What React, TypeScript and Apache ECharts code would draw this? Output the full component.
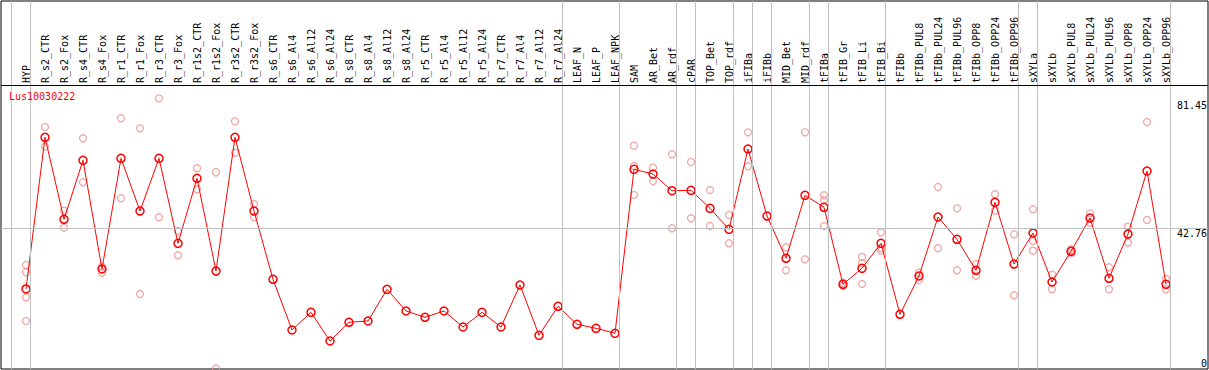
import React, { useEffect, useRef } from 'react';
import * as echarts from 'echarts';

const geneName = 'Lus10030222';

const categories = [
  'HYP', 'R_s2_CTR', 'R_s2_Fox', 'R_s4_CTR', 'R_s4_Fox', 'R_r1_CTR', 'R_r1_Fox', 'R_r3_CTR', 'R_r3_Fox',
  'R_r1s2_CTR', 'R_r1s2_Fox', 'R_r3s2_CTR', 'R_r3s2_Fox', 'R_s6_CTR', 'R_s6_Al4', 'R_s6_Al12', 'R_s6_Al24',
  'R_s8_CTR', 'R_s8_Al4', 'R_s8_Al12', 'R_s8_Al24', 'R_r5_CTR', 'R_r5_Al4', 'R_r5_Al12', 'R_r5_Al24',
  'R_r7_CTR', 'R_r7_Al4', 'R_r7_Al12', 'R_r7_Al24', 'LEAF_N', 'LEAF_P', 'LEAF_NPK', 'SAM', 'AR_Bet', 'AR_rdf',
  'cPAR', 'TOP_Bet', 'TOP_rdf', 'iFIBa', 'iFIBb', 'MID_Bet', 'MID_rdf', 'tFIBa', 'tFIB_Gr', 'tFIB_Li', 'tFIB_Bi',
  'tFIBb', 'tFIBb_PUL8', 'tFIBb_PUL24', 'tFIBb_PUL96', 'tFIBb_OPP8', 'tFIBb_OPP24', 'tFIBb_OPP96', 'sXYLa',
  'sXYLb', 'sXYLb_PUL8', 'sXYLb_PUL24', 'sXYLb_PUL96', 'sXYLb_OPP8', 'sXYLb_OPP24', 'sXYLb_OPP96',
];

const means = [
  24.2, 70.36, 45.41, 63.36, 30.28, 63.97, 47.93, 63.97, 38.1, 57.89, 29.67, 70.36, 47.93, 27.15, 11.72, 17.1,
  8.37, 14.06, 14.46, 24.1, 17.5, 15.58, 17.5, 12.63, 17.1, 12.63, 25.41, 10.1, 18.93, 13.45, 12.23, 10.71,
  60.62, 59.19, 54.11, 54.23, 48.75, 42.36, 66.8, 46.41, 33.54, 52.71, 49.06, 25.63, 30.49, 38.1, 16.5, 28.15,
  46.11, 39.32, 29.89, 50.58, 31.8, 41.24, 26.33, 35.67, 45.8, 27.45, 40.93, 60.11, 25.63,
];

const replicates: number[][] = [
  [31.5, 29.28, 21.67, 14.46], [73.5, 67.5], [48.03, 42.85], [70.06, 56.67], [30.98, 29.16],
  [76.15, 51.8], [73.1, 22.67], [82.23, 46.02], [41.85, 34.45], [60.93, 54.54], [59.71, 0],
  [75.23, 65.68], [50.06, 46.02], [], [], [], [], [], [], [], [], [], [], [], [], [], [], [], [], [], [], [],
  [67.81, 61.63, 52.8], [61.11, 57.06], [65.19, 42.67], [62.85, 45.71], [54.32, 43.37], [46.72, 38.1],
  [71.88, 61.54], [], [36.89, 29.89], [71.88, 33.23], [52.71, 51.28, 43.37], [26.11, 25.11],
  [33.93, 32.11, 25.72], [41.45, 36.58, 35.85], [], [29.16, 26.93], [55.24, 36.58], [48.75, 29.89],
  [31.71, 28.24], [53.02, 48.03], [40.84, 22.28], [48.45, 38.8, 35.85], [28.55, 24.1], [36.28, 35.06],
  [47.23, 44.37], [30.8, 24.1], [43.16, 38.29], [75.02, 45.19], [27.24, 24.1],
];

// group boundaries: a separator follows each of these categories (plus one before the first)
const groupEnds = [
  'HYP', 'R_r7_Al24', 'LEAF_NPK', 'AR_rdf', 'cPAR', 'TOP_rdf', 'iFIBa', 'iFIBb', 'MID_rdf', 'tFIBa',
  'tFIB_Bi', 'tFIBb_OPP96', 'sXYLa', 'sXYLb_OPP96',
];

const yTickLabels = [42.76, 81.45];
const yZeroLabel = [0];
const gridLineValues = [42.76];

export default function App() {
  const ref = useRef<HTMLDivElement>(null);

  useEffect(() => {
    if (!ref.current) return;
    const chart = echarts.init(ref.current, null, { renderer: 'svg' });

    const SEP_OFFSET = 0.23;
    const sepPositions = [-1, ...groupEnds.map((n) => categories.indexOf(n))].map((i) => i + SEP_OFFSET);
    const catIdx = categories.map((_, i) => i);

    const repData: number[][] = [];
    replicates.forEach((arr, i) => arr.forEach((v) => repData.push([i, v])));
    const meanData = means.map((v, i) => [i, v]);

    const font = 'DejaVu Sans Mono';
    const yMin = -0.152;
    const yMax = 111.85;
    const gridTop = 1;
    const gridBottom = 1;
    const headerHeight = 84;
    const pxPerUnit = (370 - gridTop - gridBottom) / (yMax - yMin);
    const headerLineValue = yMax - headerHeight / pxPerUnit;

    chart.setOption({
      animation: false,
      backgroundColor: '#fff',
      title: {
        text: geneName,
        left: 9,
        top: 91,
        padding: 0,
        textStyle: { color: '#ff0000', fontSize: 10, fontFamily: font, fontWeight: 'normal' },
      },
      grid: {
        left: 1,
        right: 1,
        top: gridTop,
        bottom: gridBottom,
        show: true,
        borderColor: '#000',
        borderWidth: 1,
        outerBoundsMode: 'none',
      },
      xAxis: {
        type: 'value',
        position: 'top',
        offset: -headerHeight,
        min: -1.3158,
        max: 62.21,
        axisLine: { show: false },
        axisTick: { show: false },
        splitLine: { show: false },
        axisLabel: {
          customValues: catIdx,
          rotate: 90,
          margin: 2,
          color: '#000',
          fontSize: 10,
          fontFamily: font,
          formatter: (v: number) => categories[Math.round(v)] ?? '',
        },
      },
      yAxis: [
        {
          type: 'value',
          position: 'right',
          min: yMin,
          max: yMax,
          axisLine: { show: false, onZero: false },
          axisTick: { show: false },
          splitLine: { show: false },
          axisLabel: {
            inside: true,
            customValues: yTickLabels,
            margin: 1,
            verticalAlign: 'top',
            color: '#000',
            fontSize: 10,
            fontFamily: font,
            formatter: (v: number) => String(v),
          },
        },
        {
          type: 'value',
          position: 'right',
          min: yMin,
          max: yMax,
          axisLine: { show: false, onZero: false },
          axisTick: { show: false },
          splitLine: { show: false },
          axisLabel: {
            inside: true,
            customValues: yZeroLabel,
            margin: 1,
            verticalAlign: 'bottom',
            color: '#000',
            fontSize: 10,
            fontFamily: font,
            formatter: (v: number) => String(v),
          },
        },
      ],
      series: [
        {
          type: 'scatter',
          name: 'replicates',
          z: 1,
          data: repData,
          symbol: 'circle',
          symbolSize: 7,
          itemStyle: { color: 'rgba(0,0,0,0)', borderColor: '#ec9090', borderWidth: 1.3 },
          markLine: {
            silent: true,
            symbol: 'none',
            label: { show: false },
            lineStyle: { color: '#c0c0c0', width: 1, type: 'solid' },
            data: [
              ...sepPositions.map((x) => ({ xAxis: x })),
              ...gridLineValues.map((y) => ({ yAxis: y })),
              { yAxis: headerLineValue, lineStyle: { color: '#000', width: 1, type: 'solid' } },
            ],
          },
        },
        {
          type: 'line',
          name: geneName,
          z: 3,
          data: meanData,
          symbol: 'circle',
          symbolSize: 8,
          lineStyle: { color: '#ff0000', width: 1 },
          itemStyle: { color: 'rgba(0,0,0,0)', borderColor: '#ff0000', borderWidth: 1.5 },
        },
      ],
    });

    return () => chart.dispose();
  }, []);

  return (
    <div
      ref={ref}
      style={{ position: 'absolute', left: 0, top: 0, width: 1209, height: 370 }}
    />
  );
}
